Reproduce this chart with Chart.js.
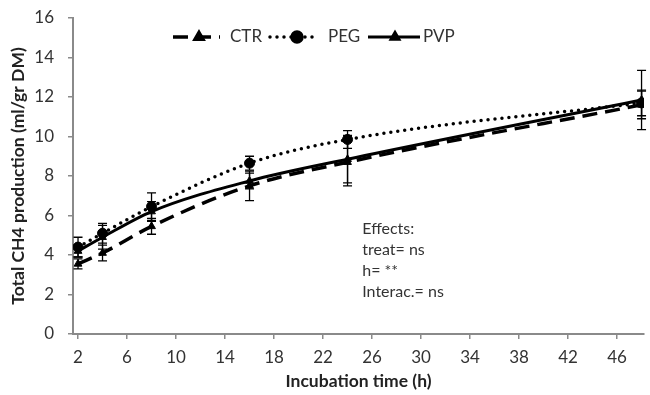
<!DOCTYPE html>
<html><head><meta charset="utf-8">
<script src="https://cdn.jsdelivr.net/npm/chart.js@4/dist/chart.umd.min.js"></script>
<style>html,body{margin:0;padding:0;background:#fff}#wrap{width:650px;height:395px;overflow:hidden}</style>
</head><body><div id="wrap"><canvas id="c" width="650" height="395"></canvas></div>
<script>
const hours = [2, 4, 8, 16, 24, 48];
const ctrValues = [3.55, 4.1, 5.45, 7.5, 8.7, 11.6];
const ctrErrors = [0.25, 0.4, 0.4, 0.75, 1.2, 0.7];
const pegValues = [4.4, 5.1, 6.45, 8.65, 9.85, 11.7];
const pegErrors = [0.5, 0.5, 0.7, 0.35, 0.45, 0.65];
const pvpValues = [4.2, 4.9, 6.2, 7.75, 8.85, 11.85];
const pvpErrors = [0.3, 0.6, 0.5, 0.4, 1.2, 1.5];
const seriesNames = ["CTR", "PEG", "PVP"];
const xTicks = [2, 6, 10, 14, 18, 22, 26, 30, 34, 38, 42, 46];
const yTicks = [0, 2, 4, 6, 8, 10, 12, 14, 16];
const effectsLines = ["Effects:", "treat= ns", "h= **", "Interac.= ns"];
const xTitle = "Incubation time (h)";
const yTitle = "Total CH4 production (ml/gr DM)";

const FONT = "Lato, 'Open Sans', sans-serif";
const AXIS_COLOR = "#8a8a8a";
const TEXT_COLOR = "#333";

function toPts(vals){ return hours.map((h,i)=>({x:h, y:vals[i]})); }
const errorsByDataset = [ctrErrors, pegErrors, pvpErrors];

const errorBars = {
  id: 'errorBars',
  afterDatasetsDraw(chart){
    const {ctx, scales:{x, y}} = chart;
    ctx.save();
    ctx.strokeStyle = '#000';
    ctx.lineWidth = 1.3;
    chart.data.datasets.forEach((ds, di) => {
      const errs = errorsByDataset[di];
      ds.data.forEach((p, j) => {
        const px = x.getPixelForValue(p.x);
        const t = y.getPixelForValue(p.y + errs[j]);
        const b = y.getPixelForValue(p.y - errs[j]);
        ctx.beginPath();
        ctx.moveTo(px, t); ctx.lineTo(px, b);
        ctx.moveTo(px-4.5, t); ctx.lineTo(px+4.5, t);
        ctx.moveTo(px-4.5, b); ctx.lineTo(px+4.5, b);
        ctx.stroke();
      });
    });
    ctx.restore();
  }
};

const customLegend = {
  id: 'customLegend',
  afterDraw(chart){
    const {ctx} = chart;
    const items = [
      {x0:173, x1:220, mx:199, tx:230},
      {x0:270, x1:313, mx:297, tx:328},
      {x0:368, x1:420, mx:395, tx:423}
    ];
    const yy = 37;
    ctx.save();
    chart.data.datasets.forEach((ds, i) => {
      const it = items[i];
      ctx.beginPath();
      ctx.strokeStyle = '#000';
      ctx.lineWidth = ds.borderWidth;
      ctx.lineCap = ds.borderCapStyle || 'butt';
      ctx.setLineDash(ds.borderDash || []);
      ctx.moveTo(it.x0, yy); ctx.lineTo(it.x1, yy);
      ctx.stroke();
      ctx.setLineDash([]);
      ctx.beginPath();
      Chart.helpers.drawPoint(ctx, {pointStyle: ds.pointStyle, radius: ds.pointRadius, borderWidth: 1}, it.mx, yy);
      ctx.fillStyle = '#000';
      ctx.fill();
      ctx.fillStyle = TEXT_COLOR;
      ctx.font = "17px " + FONT;
      ctx.textBaseline = 'middle';
      ctx.textAlign = 'left';
      ctx.fillText(ds.label, it.tx, yy);
    });
    ctx.restore();
  }
};

const effectsText = {
  id: 'effectsText',
  afterDraw(chart){
    const {ctx, scales:{x, y}} = chart;
    const left = x.getPixelForValue(25.2);
    const top = y.getPixelForValue(5.3);
    ctx.save();
    ctx.fillStyle = TEXT_COLOR;
    ctx.font = "16px " + FONT;
    ctx.textBaseline = 'middle';
    ctx.textAlign = 'left';
    effectsLines.forEach((t, i) => ctx.fillText(t, left, top + i*21));
    ctx.restore();
  }
};

new Chart(document.getElementById('c'), {
  type: 'line',
  data: {
    datasets: [
      {label: seriesNames[0], data: toPts(ctrValues), borderColor:'#000', backgroundColor:'#000',
       borderWidth: 3.5, borderDash:[15,8], pointStyle:'triangle', pointRadius:4.5, pointBorderWidth:1,
       pointBackgroundColor:'#000', pointBorderColor:'#000', cubicInterpolationMode:'monotone'},
      {label: seriesNames[1], data: toPts(pegValues), borderColor:'#000', backgroundColor:'#000',
       borderWidth: 3.5, borderDash:[0,7], borderCapStyle:'round', pointStyle:'circle', pointRadius:5, pointBorderWidth:1,
       pointBackgroundColor:'#000', pointBorderColor:'#000', cubicInterpolationMode:'monotone'},
      {label: seriesNames[2], data: toPts(pvpValues), borderColor:'#000', backgroundColor:'#000',
       borderWidth: 3, pointStyle:'triangle', pointRadius:4.5, pointBorderWidth:1,
       pointBackgroundColor:'#000', pointBorderColor:'#000', cubicInterpolationMode:'monotone'}
    ]
  },
  options: {
    responsive: false,
    devicePixelRatio: 1,
    animation: false,
    layout: {padding: {top: 18, right: 0, left: 0, bottom: 0}},
    plugins: {legend: {display: false}, tooltip: {enabled: false}},
    scales: {
      x: {
        type: 'linear', min: 1.59, max: 48.2,
        afterBuildTicks(axis){ axis.ticks = xTicks.map(v => ({value: v})); },
        afterFit(scale){ scale.height = 61; },
        ticks: {font: {family: FONT, size: 17}, color: TEXT_COLOR, padding: 8, autoSkip: false, maxRotation: 0},
        grid: {drawOnChartArea: false, drawTicks: true, tickLength: 5, color: AXIS_COLOR, lineWidth: 1.5},
        border: {color: AXIS_COLOR, width: 2},
        title: {display: true, text: xTitle, font: {family: FONT, size: 17.5, weight: 'bold'}, color: '#222', padding: {top: 0, bottom: 3}}
      },
      y: {
        min: 0, max: 16,
        afterBuildTicks(axis){ axis.ticks = yTicks.map(v => ({value: v})); },
        afterFit(scale){ scale.width = 73; scale.paddingTop = 0; scale.paddingBottom = 0; },
        ticks: {font: {family: FONT, size: 17}, color: TEXT_COLOR, padding: 14},
        grid: {drawOnChartArea: false, drawTicks: true, tickLength: 5, color: AXIS_COLOR, lineWidth: 1.5},
        border: {color: AXIS_COLOR, width: 2},
        title: {display: true, text: yTitle, font: {family: FONT, size: 17.5, weight: 'bold'}, color: '#222', padding: {top: 8, bottom: 0}}
      }
    }
  },
  plugins: [errorBars, customLegend, effectsText]
});
</script>
</body></html>
